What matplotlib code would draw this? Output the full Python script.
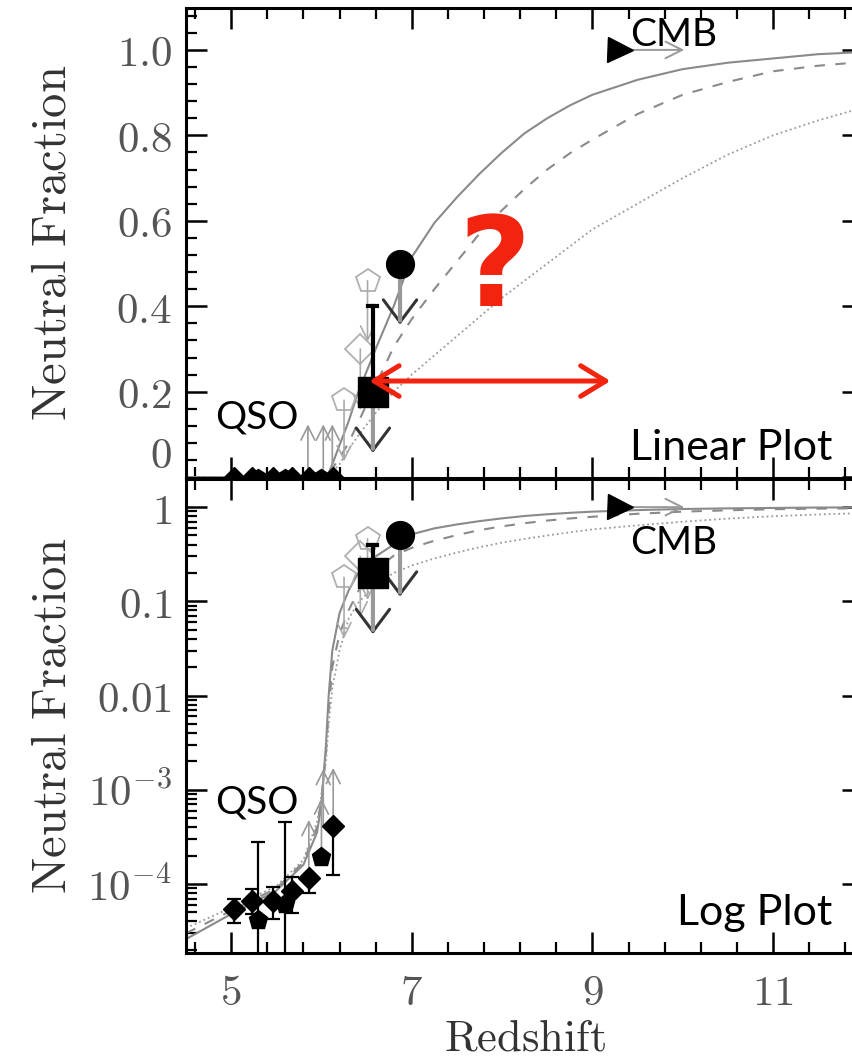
import numpy as np
import matplotlib.pyplot as plt
from matplotlib.ticker import FixedLocator, NullFormatter, LogLocator

plt.rcParams['mathtext.fontset'] = 'cm'

# model curves (neutral fraction vs redshift)
z_model = [4.5, 5.0, 5.5, 5.8, 5.95, 6.0, 6.05, 6.08, 6.12, 6.2, 6.3, 6.4, 6.6,
           6.8, 7.0, 7.25, 7.5, 7.75, 8.0, 8.25, 8.5, 8.75, 9.0, 9.5, 10.0, 10.5,
           11.0, 11.5, 12.0]
x_solid = [2.6e-5, 4.8e-5, 8.5e-5, 1.6e-4, 3.5e-4, 7e-4, 3e-3, 0.01, 0.03, 0.075,
           0.13, 0.195, 0.30, 0.40, 0.515, 0.595, 0.655, 0.71, 0.76, 0.805, 0.84,
           0.87, 0.895, 0.93, 0.955, 0.97, 0.98, 0.99, 0.995]
x_dashed = [3.0e-5, 5.2e-5, 9e-5, 1.7e-4, 4e-4, 8e-4, 2.5e-3, 7e-3, 0.02, 0.045,
            0.08, 0.125, 0.215, 0.305, 0.37, 0.44, 0.505, 0.57, 0.625, 0.675, 0.72,
            0.758, 0.79, 0.85, 0.895, 0.925, 0.95, 0.963, 0.972]
x_dotted = [3.4e-5, 5.6e-5, 9.5e-5, 1.8e-4, 4.5e-4, 9e-4, 2e-3, 5e-3, 0.012, 0.03,
            0.065, 0.095, 0.15, 0.20, 0.24, 0.285, 0.33, 0.375, 0.42, 0.46, 0.50,
            0.54, 0.58, 0.64, 0.70, 0.755, 0.80, 0.835, 0.865]

# QSO points
qso_z = [5.03, 5.23, 5.30, 5.46, 5.60, 5.67, 5.86, 6.00, 6.13]
qso_x = [5.4e-5, 6.6e-5, 4.1e-5, 6.6e-5, 6.2e-5, 8.5e-5, 1.15e-4, 1.95e-4, 4.1e-4]
qso_hi = [6.9e-5, 8.9e-5, 2.8e-4, 9.3e-5, 4.5e-4, 1.2e-4, 1.15e-4, 1.95e-4, 4.1e-4]
qso_lo = [3.9e-5, 4.8e-5, 1e-6, 4.2e-5, 1e-6, 4.9e-5, 8e-5, 1.95e-4, 1.25e-4]
qso_mk = ['D', 'D', 'p', 'D', 'p', 'D', 'D', 'p', 'D']

# QSO lower limits (arrows up)
lim_z_lin = [5.85, 6.02, 6.12]
lim_x_lin = [0.0, 0.0, 0.0]
lim_z_log = [5.86, 6.00, 6.02, 6.13]
lim_x_log = [1.15e-4, 1.95e-4, 4e-4, 4.1e-4]

# open grey symbols (upper limits)
open_z = [6.51, 6.43, 6.25]
open_x = [0.46, 0.30, 0.18]
open_mk = ['p', 'D', 'p']

# big filled symbols
sq_z, sq_x, sq_hi = 6.57, 0.20, 0.40
circ_z, circ_x = 6.87, 0.50
cmb_z, cmb_x = 9.31, 1.0

fig = plt.figure(figsize=(8.52, 10.58), dpi=100)
ax1 = fig.add_axes([0.2183, 0.5482, 0.795, 0.4442])
ax2 = fig.add_axes([0.2183, 0.0992, 0.795, 0.448])

grey = '#8a8a8a'
small_font = dict(family='Lato', fontsize=28, color='black')
big_font = dict(family='Lato', fontsize=31, color='black')


def down_arrow(ax, z, v, length, head_col, shaft_col, lw, hl, hw):
    ax.annotate('', xy=(z, v), xytext=(0, -length), textcoords='offset points',
                arrowprops=dict(arrowstyle='<-,head_length=%g,head_width=%g' % (hl, hw),
                                color=head_col, lw=lw, shrinkA=0, shrinkB=0),
                zorder=4)
    ax.annotate('', xy=(z, v), xytext=(0, -length + 3), textcoords='offset points',
                arrowprops=dict(arrowstyle='-', color=shaft_col, lw=lw + 0.8,
                                shrinkA=0, shrinkB=0), zorder=4)


def up_arrow(ax, z, v, length):
    ax.annotate('', xy=(z, v), xytext=(0, length), textcoords='offset points',
                arrowprops=dict(arrowstyle='<-,head_length=0.5,head_width=0.25',
                                color='#999999', lw=1.2, mutation_scale=20,
                                shrinkA=0, shrinkB=0), zorder=3)


for ax, islog in [(ax1, False), (ax2, True)]:
    ax.plot(z_model, x_solid, '-', color=grey, lw=1.5, zorder=2)
    ax.plot(z_model, x_dashed, '--', color=grey, lw=1.5, dashes=(5, 5), zorder=2)
    ax.plot(z_model, x_dotted, ':', color='#9a9a9a', lw=1.3, zorder=2)

    # QSO
    if islog:
        for z, v, lo, hi, m in zip(qso_z, qso_x, qso_lo, qso_hi, qso_mk):
            ax.errorbar(z, v, yerr=[[v - lo], [hi - v]], fmt=m, color='black',
                        ms=11 if m == 'D' else 14, capsize=5, elinewidth=1.6,
                        capthick=1.6, zorder=5)
        for z, v in zip(lim_z_log, lim_x_log):
            up_arrow(ax, z, v, 42)
    else:
        for z, v, m in zip(qso_z, qso_x, qso_mk):
            ax.plot(z, v, m, color='black', ms=10 if m == 'D' else 12, zorder=5)
        for z, v in zip(lim_z_lin, lim_x_lin):
            up_arrow(ax, z, v, 38)

    # open grey symbols with down arrows
    for z, v, m in zip(open_z, open_x, open_mk):
        ax.plot(z, v, m, mfc='none', mec='#b0b0b0', mew=1.3,
                ms=18 if m == 'p' else 15, zorder=3)
        ax.annotate('', xy=(z, v), xytext=(0, -44), textcoords='offset points',
                    arrowprops=dict(arrowstyle='<-,head_length=0.5,head_width=0.25',
                                    color='#aaaaaa', lw=1.2, mutation_scale=20,
                                    shrinkA=0, shrinkB=0), zorder=3)

    # square with error bar and upper limit arrow
    ax.plot([sq_z, sq_z], [sq_x, sq_hi], color='black', lw=3, zorder=6)
    ax.plot([sq_z - 0.05, sq_z + 0.05], [sq_hi, sq_hi], color='black', lw=3, zorder=6)
    down_arrow(ax, sq_z, sq_x, 44, '#333333', '#999999', 2.2, 1.6, 1.2)
    ax.plot(sq_z, sq_x, 's', color='black', ms=21, zorder=7)

    # circle with upper limit arrow
    down_arrow(ax, circ_z, circ_x, 44, '#333333', '#999999', 2.2, 1.6, 1.2)
    ax.plot(circ_z, circ_x, 'o', color='black', ms=20, zorder=7)

    # CMB triangle with arrow to the right
    ax.annotate('', xy=(cmb_z, cmb_x), xytext=(46, 0), textcoords='offset points',
                arrowprops=dict(arrowstyle='<-,head_length=0.6,head_width=0.3',
                                color='#999999', lw=1.4, mutation_scale=20,
                                shrinkA=0, shrinkB=0), zorder=6)
    ax.plot(cmb_z, cmb_x, '>', color='black', ms=18, zorder=7)

    ax.set_xlim(4.5, 12.0)
    ax.xaxis.set_major_locator(FixedLocator([5, 7, 9, 11]))
    ax.xaxis.set_minor_locator(FixedLocator(np.arange(4.6, 12.0, 0.4)))
    ax.tick_params(which='both', direction='in', top=True, right=True,
                   colors='black', labelcolor='#555555', labelsize=31, pad=10)
    ax.tick_params(which='major', length=15, width=1.8)
    ax.tick_params(which='minor', length=8, width=1.6)
    for s in ax.spines.values():
        s.set_linewidth(2.2)
    ax.set_ylabel(r'$\mathrm{Neutral\ Fraction}$', fontsize=35, color='#333333')
    ax.yaxis.set_label_coords(-0.1625, 0.5)

# top panel: linear
ax1.set_ylim(-0.002, 1.098)
ax1.set_yticks([0, 0.2, 0.4, 0.6, 0.8, 1.0])
ax1.set_yticklabels(['$0$', '$0.2$', '$0.4$', '$0.6$', '$0.8$', '$1.0$'])
ax1.get_yticklabels()[0].set_verticalalignment('bottom')
ax1.yaxis.set_minor_locator(FixedLocator(np.arange(0.04, 1.1, 0.04)))
ax1.tick_params(axis='x', labelbottom=False)

# bottom panel: log
ax2.set_yscale('log')
ax2.set_ylim(1.85e-5, 1.985)
ax2.yaxis.set_major_locator(FixedLocator([1e-4, 1e-3, 1e-2, 0.1, 1]))
ax2.set_yticklabels(['$10^{-4}$', '$10^{-3}$', '$0.01$', '$0.1$', '$1$'])
ax2.yaxis.set_minor_locator(LogLocator(subs=np.arange(2, 10)))
ax2.yaxis.set_minor_formatter(NullFormatter())
ax2.set_xticklabels(['$5$', '$7$', '$9$', '$11$'])
ax2.tick_params(axis='x', pad=14)
ax2.set_xlabel(r'$\mathrm{Redshift}$', fontsize=32, color='#333333')
ax2.xaxis.set_label_coords(0.5, -0.134)

# annotations
ax1.text(9.42, 1.01, 'CMB', ha='left', va='baseline', **small_font)
ax2.text(9.42, 0.32, 'CMB', ha='left', va='baseline', **small_font)
ax1.text(4.82, 0.115, 'QSO', ha='left', va='baseline', **small_font)
ax2.text(4.82, 5.6e-4, 'QSO', ha='left', va='baseline', **small_font)
ax1.text(0.954, 0.038, 'Linear Plot', transform=ax1.transAxes, ha='right',
         va='baseline', **big_font)
ax2.text(0.954, 0.059, 'Log Plot', transform=ax2.transAxes, ha='right',
         va='baseline', **big_font)

red = '#f2230f'
ax1.text(7.92, 0.40, '?', ha='center', va='baseline', color=red, fontsize=90,
         family='DejaVu Sans', fontweight='bold', zorder=8)
arrow_left, arrow_right, arrow_level = 6.53, 9.20, 0.225
ax1.annotate('', xy=(arrow_right, arrow_level), xytext=(arrow_left, arrow_level),
             arrowprops=dict(arrowstyle='<->,head_length=0.9,head_width=0.55',
                             color=red, lw=3.6, mutation_scale=20,
                             shrinkA=0, shrinkB=0), zorder=9)

fig.savefig('out.png', dpi=100)
